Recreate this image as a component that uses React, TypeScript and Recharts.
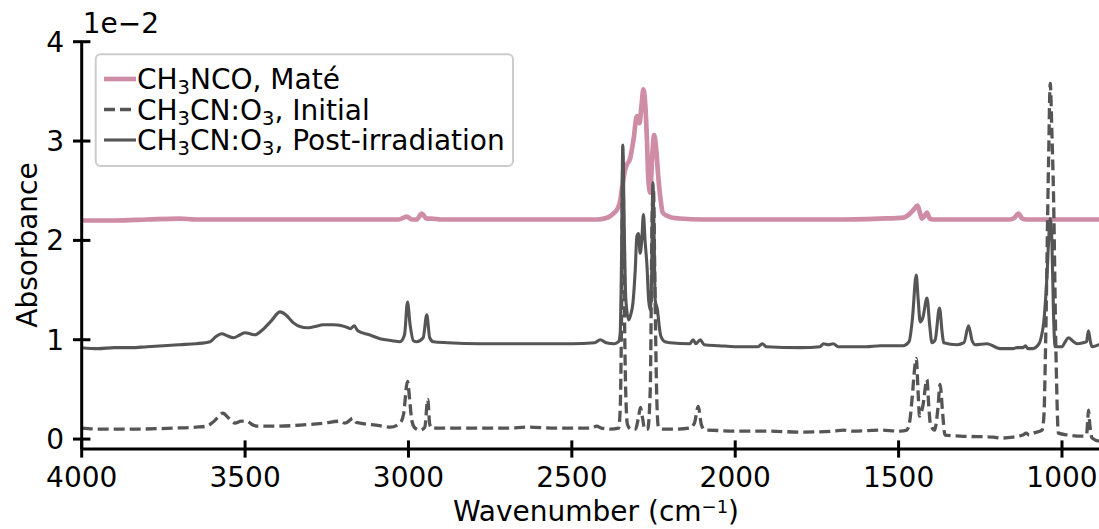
import React from 'react';
import { LineChart, Line, XAxis, YAxis } from 'recharts';

// ---- data (wavenumber in cm^-1, absorbance in units of 1e-2) ----
const mateX = [4000, 3900, 3800, 3700, 3650, 3500, 3300, 3100, 3030, 3005, 2990, 2975, 2959, 2945, 2930, 2900, 2700, 2500, 2420, 2390, 2373, 2360, 2352, 2345, 2337, 2332, 2322, 2311, 2301, 2293, 2287, 2281, 2275, 2270, 2266, 2260, 2254, 2248, 2242, 2235, 2228, 2222, 2210, 2195, 2170, 2100, 1900, 1700, 1556, 1485, 1465, 1454, 1442, 1435, 1429, 1420, 1413, 1405, 1395, 1300, 1160, 1145, 1133, 1122, 1110, 1000, 900, 850];
const mateY = [2.2, 2.2, 2.21, 2.22, 2.21, 2.21, 2.21, 2.21, 2.21, 2.24, 2.21, 2.21, 2.27, 2.22, 2.22, 2.21, 2.21, 2.21, 2.21, 2.23, 2.27, 2.32, 2.4, 2.56, 2.71, 2.76, 2.82, 3.02, 3.25, 3.18, 3.35, 3.52, 3.35, 3.0, 2.62, 2.48, 2.85, 3.06, 2.92, 2.62, 2.4, 2.28, 2.25, 2.23, 2.22, 2.21, 2.21, 2.21, 2.22, 2.23, 2.27, 2.31, 2.35, 2.28, 2.22, 2.25, 2.28, 2.22, 2.21, 2.21, 2.21, 2.23, 2.27, 2.22, 2.21, 2.21, 2.21, 2.21];

const initialX = [4000, 3944, 3850, 3719, 3650, 3617, 3595, 3568, 3550, 3531, 3512, 3495, 3475, 3464, 3400, 3332, 3260, 3209, 3194, 3169, 3160, 3148, 3100, 3056, 3026, 3015, 3003, 2995, 2990, 2980, 2964, 2950, 2941, 2935, 2929, 2880, 2781, 2700, 2633, 2550, 2440, 2424, 2410, 2383, 2357, 2352, 2348, 2344, 2340, 2336, 2330, 2320, 2305, 2296, 2290, 2284, 2277, 2268, 2260, 2254, 2250, 2246, 2240, 2235, 2220, 2180, 2140, 2125, 2113, 2104, 2093, 2087, 2005, 1900, 1801, 1700, 1669, 1640, 1560, 1495, 1475, 1465, 1459, 1446, 1440, 1436, 1426, 1413, 1408, 1403, 1390, 1380, 1373, 1365, 1358, 1312, 1209, 1189, 1150, 1120, 1110, 1100, 1087, 1061, 1055, 1051, 1041, 1036, 1031, 1026, 1018, 1011, 980, 954, 935, 925, 921, 919, 915, 908, 886, 850];
const initialY = [0.11, 0.1, 0.1, 0.11, 0.12, 0.13, 0.18, 0.26, 0.21, 0.16, 0.18, 0.18, 0.14, 0.13, 0.13, 0.14, 0.16, 0.18, 0.16, 0.21, 0.17, 0.16, 0.14, 0.12, 0.16, 0.25, 0.58, 0.35, 0.19, 0.11, 0.09, 0.12, 0.4, 0.15, 0.11, 0.11, 0.11, 0.11, 0.12, 0.11, 0.11, 0.13, 0.11, 0.1, 0.11, 0.3, 1.2, 2.85, 1.6, 0.6, 0.15, 0.1, 0.1, 0.22, 0.32, 0.22, 0.1, 0.1, 0.5, 2.3, 2.5, 1.6, 0.4, 0.12, 0.1, 0.1, 0.11, 0.16, 0.33, 0.15, 0.09, 0.09, 0.08, 0.08, 0.07, 0.08, 0.09, 0.08, 0.09, 0.08, 0.09, 0.2, 0.4, 0.81, 0.45, 0.23, 0.33, 0.6, 0.35, 0.16, 0.09, 0.3, 0.55, 0.25, 0.04, 0.03, 0.02, 0.01, 0.02, 0.04, 0.06, 0.04, 0.06, 0.09, 0.25, 0.8, 2.81, 3.58, 3.1, 2.47, 0.8, 0.06, 0.04, 0.03, 0.03, 0.04, 0.2, 0.29, 0.15, 0.01, -0.02, -0.02];

const postX = [4000, 3950, 3900, 3850, 3800, 3750, 3700, 3650, 3607, 3590, 3571, 3555, 3536, 3515, 3500, 3485, 3469, 3450, 3420, 3393, 3375, 3352, 3330, 3311, 3290, 3260, 3230, 3204, 3185, 3178, 3166, 3155, 3120, 3087, 3050, 3026, 3012, 3003, 2995, 2985, 2975, 2955, 2944, 2935, 2924, 2880, 2781, 2700, 2628, 2500, 2430, 2413, 2395, 2370, 2357, 2352, 2348, 2344, 2340, 2336, 2332, 2326, 2320, 2313, 2306, 2301, 2296, 2291, 2286, 2281, 2276, 2270, 2265, 2260, 2256, 2252, 2248, 2245, 2238, 2233, 2228, 2215, 2199, 2139, 2129, 2120, 2107, 2095, 2050, 2000, 1930, 1917, 1905, 1800, 1740, 1730, 1715, 1700, 1685, 1600, 1556, 1485, 1468, 1458, 1446, 1440, 1434, 1426, 1413, 1405, 1398, 1388, 1375, 1366, 1362, 1321, 1300, 1286, 1275, 1265, 1230, 1189, 1150, 1138, 1120, 1112, 1104, 1090, 1070, 1062, 1056, 1046, 1040, 1036, 1031, 1026, 1021, 1000, 990, 980, 968, 954, 935, 925, 919, 913, 908, 886, 870, 850];
const postY = [0.92, 0.91, 0.92, 0.92, 0.93, 0.94, 0.95, 0.96, 0.98, 1.03, 1.06, 1.04, 1.02, 1.05, 1.07, 1.06, 1.05, 1.09, 1.19, 1.28, 1.25, 1.17, 1.13, 1.12, 1.13, 1.15, 1.15, 1.14, 1.12, 1.11, 1.14, 1.09, 1.05, 1.01, 0.99, 0.98, 1.05, 1.38, 1.15, 0.99, 0.98, 1.02, 1.25, 1.02, 0.98, 0.97, 0.96, 0.96, 0.96, 0.96, 0.97, 1.0, 0.97, 0.96, 0.98, 1.07, 1.8, 2.96, 2.2, 1.5, 1.3, 1.2, 1.25, 1.37, 1.7, 2.04, 2.07, 1.87, 2.0, 2.26, 2.0, 1.74, 1.4, 1.3, 1.6, 2.58, 2.0, 1.4, 1.3, 1.15, 1.04, 0.98, 0.97, 0.96, 1.0, 0.96, 1.0, 0.95, 0.94, 0.93, 0.93, 0.96, 0.93, 0.92, 0.93, 0.96, 0.95, 0.96, 0.93, 0.93, 0.94, 0.94, 0.98, 1.2, 1.65, 1.4, 1.18, 1.22, 1.42, 1.15, 0.97, 1.0, 1.32, 1.05, 0.97, 0.95, 0.97, 1.14, 0.99, 0.95, 0.96, 0.91, 0.91, 0.92, 0.92, 0.94, 0.91, 0.91, 0.96, 1.05, 1.17, 1.64, 2.05, 2.22, 2.0, 1.27, 0.93, 0.93, 0.98, 1.02, 0.99, 0.96, 0.97, 0.98, 1.09, 0.98, 0.93, 0.95, 0.96, 0.96];

const xTicks = [4000, 3500, 3000, 2500, 2000, 1500, 1000];
const yTicks = [0, 1, 2, 3, 4];

// legend labels; "_" marks a subscript digit
const seriesLabels = ['CH_3NCO, Maté', 'CH_3CN:O_3, Initial', 'CH_3CN:O_3, Post-irradiation'];

const toRows = (xs: number[], ys: number[]) => xs.map((x, i) => ({ x, y: ys[i] }));
const mateData = toRows(mateX, mateY);
const initialData = toRows(initialX, initialY);
const postData = toRows(postX, postY);

if (typeof document !== 'undefined') {
  document.body.style.margin = '0';
}

const FONT = 'DejaVu Sans';
const FS = 28;
const SUB = 19.5;
const PINK = '#cf8ca5';
const GRAY = '#555555';

const XTick = (props: any) => {
  const { x, y, payload } = props;
  return (
    <g>
      <line x1={x} x2={x} y1={y - 8.6} y2={y + 8.6} stroke="#000" strokeWidth={3} />
      <text x={x} y={y + 38} textAnchor="middle" fontSize={FS} fontFamily={FONT} fill="#000">
        {payload.value}
      </text>
    </g>
  );
};

const YTick = (props: any) => {
  const { x, y, payload } = props;
  return (
    <g>
      <line x1={x - 8.7} x2={x + 8.7} y1={y} y2={y} stroke="#000" strokeWidth={3} />
      <text x={x - 17.5} y={y + 10} textAnchor="end" fontSize={FS} fontFamily={FONT} fill="#000">
        {payload.value}
      </text>
    </g>
  );
};

const LegendLabel = ({ x, y, parts }: { x: number; y: number; parts: string }) => {
  const segs = parts.split(/(_\d)/).filter((s) => s.length > 0);
  return (
    <text x={x} y={y} fontSize={FS} fontFamily={FONT} fill="#000">
      {segs.map((s, i) =>
        s.startsWith('_') ? (
          <tspan key={i} fontSize={SUB} dy={5}>
            {s.slice(1)}
          </tspan>
        ) : (
          <tspan key={i} dy={i > 0 && segs[i - 1].startsWith('_') ? -5 : 0}>
            {s}
          </tspan>
        )
      )}
    </text>
  );
};

export default function App() {
  return (
    <div style={{ width: 1099, height: 529, overflow: 'hidden', position: 'relative', background: '#fff' }}>
      <LineChart width={1120} height={529} margin={{ top: 41.7, right: 9, bottom: 0, left: 0 }}>
        <XAxis
          xAxisId="b"
          dataKey="x"
          type="number"
          domain={[850, 4000]}
          reversed
          ticks={xTicks}
          interval={0}
          tick={<XTick />}
          tickLine={false}
          tickSize={0}
          tickMargin={0}
          height={80}
          axisLine={{ stroke: '#000', strokeWidth: 3 }}
          allowDataOverflow
        />
        <XAxis
          xAxisId="t"
          orientation="top"
          dataKey="x"
          type="number"
          domain={[850, 4000]}
          reversed
          tick={false}
          tickLine={false}
          height={0}
          axisLine={{ stroke: '#000', strokeWidth: 3 }}
          allowDataOverflow
        />
        <YAxis
          dataKey="y"
          type="number"
          domain={[-0.1, 4]}
          ticks={yTicks}
          interval={0}
          tick={<YTick />}
          tickLine={false}
          tickSize={0}
          tickMargin={0}
          width={81.7}
          axisLine={{ stroke: '#000', strokeWidth: 3 }}
          allowDataOverflow
        />
        <Line xAxisId="b" data={mateData} dataKey="y" name="mate" type="monotone" stroke={PINK} strokeWidth={4.7} dot={false} activeDot={false} isAnimationActive={false} strokeLinejoin="round" />
        <Line xAxisId="b" data={initialData} dataKey="y" name="initial" type="monotone" stroke={GRAY} strokeWidth={3.3} strokeDasharray="11 5" dot={false} activeDot={false} isAnimationActive={false} strokeLinejoin="round" />
        <Line xAxisId="b" data={postData} dataKey="y" name="post" type="monotone" stroke={GRAY} strokeWidth={3.1} dot={false} activeDot={false} isAnimationActive={false} strokeLinejoin="round" />
      </LineChart>
      <svg width={1099} height={529} style={{ position: 'absolute', left: 0, top: 0, pointerEvents: 'none' }}>
        <text x={82.7} y={33.3} fontSize={FS} fontFamily={FONT} fill="#000">1e{'\u2212'}2</text>
        <text transform="translate(37,245) rotate(-90)" textAnchor="middle" fontSize={FS} fontFamily={FONT} fill="#000">Absorbance</text>
        <text x={596} y={521} textAnchor="middle" fontSize={FS} fontFamily={FONT} fill="#000">
          Wavenumber (cm<tspan fontSize={18} dy={-8}>{'\u2212'}1</tspan><tspan dy={8}>)</tspan>
        </text>
        <rect x={95.7} y={54.3} width={417.3} height={111.7} rx={5} fill="#fff" fillOpacity={0.8} stroke="#cccccc" strokeWidth={2} />
        <line x1={104} x2={136} y1={79} y2={79} stroke={PINK} strokeWidth={4.7} />
        <line x1={104} x2={136} y1={109.5} y2={109.5} stroke={GRAY} strokeWidth={3.3} strokeDasharray="11 5" />
        <line x1={104} x2={136} y1={140} y2={140} stroke={GRAY} strokeWidth={3.1} />
        <LegendLabel x={137} y={89} parts={seriesLabels[0]} />
        <LegendLabel x={137} y={119.5} parts={seriesLabels[1]} />
        <LegendLabel x={137} y={150} parts={seriesLabels[2]} />
      </svg>
    </div>
  );
}
